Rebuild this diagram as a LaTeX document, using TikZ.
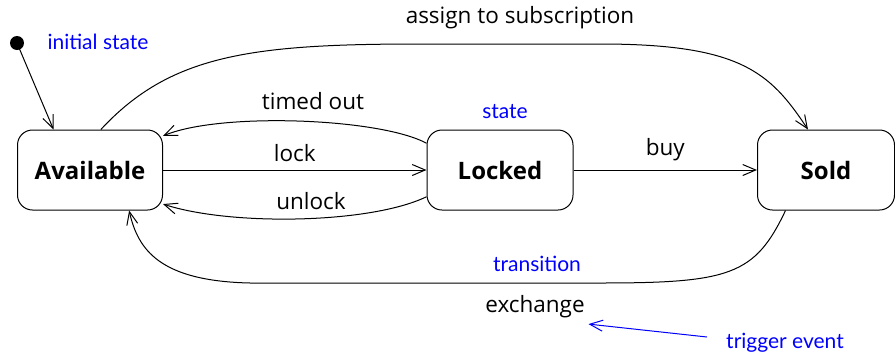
\documentclass[tikz,border=0pt]{standalone}
\usepackage{fontspec}
\setmainfont{Open Sans}
\newfontfamily\notefont{Lato}
\usetikzlibrary{arrows.meta}

\begin{document}
\begin{tikzpicture}[x=1pt,y=-1pt,line width=1pt,
		tip/.style = {-{Straight Barb[length=13pt,width=11pt]}},
		state/.style = {draw,rounded corners=15pt,minimum height=80pt,align=center,font=\fontsize{24}{28}\selectfont\bfseries},
		event/.style = {font=\fontsize{22.5}{26}\selectfont},
		note/.style = {text=blue,font=\notefont\fontsize{21}{25}\selectfont}]
		\useasboundingbox (0,0) rectangle (895,357);
		% states
		\node [state, minimum width=145pt] (av) at (90,170) {Available};
		\node [state, minimum width=146pt] (lk) at (500,170) {Locked};
		\node [state, minimum width=137pt] (sd) at (826,170) {Sold};
		\fill (17,43) circle (7pt) coordinate (init);
		% transitions
		\draw [tip] (init) -- (av.132);
		\draw [tip] (av) -- (lk) node [event, midway, above=4pt] (lock) {lock};
		\draw [tip] (lk.160) .. controls (380,118) and (220,112) .. (av.25);
		\draw [tip] (lk.200) .. controls (370,224) and (230,226) .. (av.335);
		\draw [tip] (lk) -- (sd) node [event, midway, above=5pt] (buy) {buy};
		\draw [tip] (av.75) .. controls (170,55) and (250,44) .. (420,44)
			-- (600,44) .. controls (740,44) and (770,72) .. (sd.114);
		\draw [tip] (sd.-135) .. controls (755,275) and (730,283) .. (600,283)
			-- (250,283) .. controls (160,281) and (138,250) .. (av.-46);
		% event labels
		\node [event] (timed) at (313,101) {timed out};
		\node [event] (unlock) at (311,201) {unlock};
		\node [event] (assign) at (520,18) {assign to subscription};
		\node [event] (exch) at (535,307) {exchange};
		% notes
		\node [note] (initnote) at (98,42) {initial state};
		\node [note] (statenote) at (505,112) {state};
		\node [note] (transnote) at (537,264) {transition};
		\node [note] (trig) at (785,343) {trigger event};
		\coordinate (trigtail) at (707,337);
		\draw [tip, blue] (trigtail) -- ([yshift=-2pt]exch.south east);
	\end{tikzpicture}
\end{document}
